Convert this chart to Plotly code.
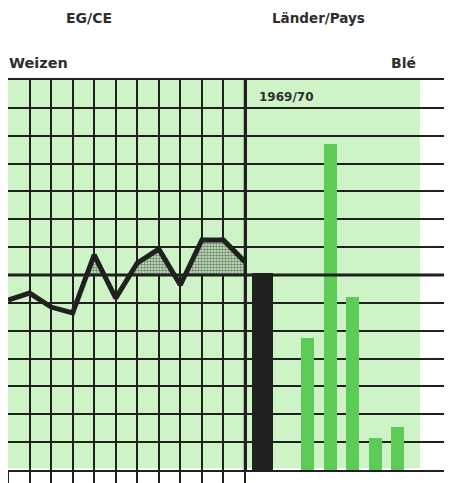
import plotly.graph_objects as go

# ---- data ----
years = [1958, 1959, 1960, 1961, 1962, 1963, 1964, 1965, 1966, 1967, 1968, 1969]
ec_index = [6.10, 6.35, 5.85, 5.64, 7.72, 6.17, 7.43, 7.93, 6.64, 8.26, 8.26, 7.47]
reference_level = 7.0

countries = ["EG/CE", " ", "D", "F", "I", "NL", "UEBL/BLEU"]
country_values = [7.07, None, 4.74, 11.70, 6.21, 1.15, 1.54]

# ---- styles ----
BG = "#cdf3c7"
BARG = "#5dcb58"
INK = "#1e211e"
FONT = "DejaVu Sans"

fig = go.Figure()

# fill polygons where series is above the reference level
fx, fy = [], []
seg = []
for i in range(len(years)):
    x0, y0 = years[i], ec_index[i]
    if i > 0:
        xp, yp = years[i - 1], ec_index[i - 1]
        if (yp - reference_level) * (y0 - reference_level) < 0:
            t = (reference_level - yp) / (y0 - yp)
            xc = xp + t * (x0 - xp)
            if yp < reference_level:
                seg = [(xc, reference_level)]
            else:
                seg.append((xc, reference_level))
                for a, b in seg:
                    fx.append(a); fy.append(b)
                fx.append(None); fy.append(None)
                seg = []
    if y0 >= reference_level:
        seg.append((x0, y0))
if seg:
    seg.append((years[-1], reference_level))
    for a, b in seg:
        fx.append(a); fy.append(b)

fig.add_trace(go.Scatter(
    x=fx, y=fy, mode="none", fill="toself", xaxis="x", yaxis="y",
    fillcolor=BG,
    fillpattern=dict(shape=".", fgcolor="#1a1a1a", bgcolor=BG, size=3, solidity=0.6),
    hoverinfo="skip", showlegend=False))

fig.add_trace(go.Scatter(
    x=years, y=ec_index, mode="lines", xaxis="x", yaxis="y",
    line=dict(color=INK, width=5), showlegend=False))

bar_colors = [INK] + [BARG] * (len(countries) - 1)
bar_widths = [0.93] + [0.58] * (len(countries) - 1)
fig.add_trace(go.Bar(
    x=countries, y=country_values, xaxis="x2", yaxis="y2",
    marker=dict(color=bar_colors, line=dict(width=0)), width=bar_widths,
    showlegend=False))

# page has an 8px body margin, so the figure starts at (8, 8)
W, H = 444, 475
L, R, T, B = 0, 0, 72, 13
pw, ph = W - L - R, H - T - B
split = (245 - 8) / pw

grid = dict(showgrid=True, gridcolor=INK, gridwidth=2)
frame = dict(showline=True, linecolor=INK, linewidth=2, mirror=True)

fig.update_layout(
    width=W, height=H,
    margin=dict(l=L, r=R, t=T, b=B, pad=0),
    paper_bgcolor="white", plot_bgcolor="white",
    font=dict(family=FONT, color="#2a2a2a"),
    xaxis=dict(domain=[0, split], range=[years[0], years[-1]], dtick=1, tick0=years[0],
               showticklabels=False, ticks="outside", ticklen=13, tickwidth=2, tickcolor=INK,
               zeroline=False, **frame, **grid),
    yaxis=dict(domain=[0, 1], range=[0, 14], dtick=1, showticklabels=False, ticks="",
               zeroline=False, anchor="x", **frame, **grid),
    xaxis2=dict(domain=[split, 1], range=[-0.778, 8.42], type="category",
                categoryorder="array", categoryarray=countries,
                showticklabels=False, ticks="", showgrid=False, zeroline=False,
                showline=True, linecolor=INK, linewidth=2, mirror=True,
                anchor="y2"),
    yaxis2=dict(domain=[0, 1], range=[0, 14], dtick=1, showticklabels=False, ticks="",
                zeroline=False, showline=False, anchor="x2", matches="y", **grid),
    bargap=0,
)

fig.add_shape(type="rect", xref="x domain", yref="y domain", x0=0, x1=1, y0=0.005, y1=1,
              fillcolor=BG, line=dict(width=0), layer="below")
fig.add_shape(type="rect", xref="x2 domain", yref="y2 domain", x0=0, x1=0.845, y0=0.005, y1=1,
              fillcolor=BG, line=dict(width=0), layer="below")
fig.add_shape(type="line", xref="paper", yref="y", x0=0, x1=1, y0=reference_level, y1=reference_level,
              line=dict(color=INK, width=3), layer="above")
fig.add_shape(type="line", xref="paper", yref="paper", x0=split, x1=split, y0=0, y1=1,
              line=dict(color=INK, width=2.5), layer="above")


def px(x):
    return (x - 8 - L) / pw


def py(y):
    return (H - B - (y - 8)) / ph


bold = dict(family=FONT, size=14, color="#2e2e2e", weight="bold")
fig.add_annotation(text="EG/CE", x=px(89), y=py(18), xref="paper", yref="paper",
                   showarrow=False, xanchor="center", yanchor="middle", font=bold)
fig.add_annotation(text="Länder/Pays", x=px(318), y=py(18), xref="paper", yref="paper",
                   showarrow=False, xanchor="center", yanchor="middle", font=dict(bold, size=13.5))
fig.add_annotation(text="Weizen", x=px(7), y=py(63), xref="paper", yref="paper",
                   showarrow=False, xanchor="left", yanchor="middle", font=dict(bold, size=14.5))
fig.add_annotation(text="Blé", x=px(418), y=py(63), xref="paper", yref="paper",
                   showarrow=False, xanchor="right", yanchor="middle", font=dict(bold, size=14))
fig.add_annotation(text="1969/70", x=px(257), y=py(97), xref="paper", yref="paper",
                   showarrow=False, xanchor="left", yanchor="middle", font=dict(bold, size=12))

fig.write_html("out.html")
